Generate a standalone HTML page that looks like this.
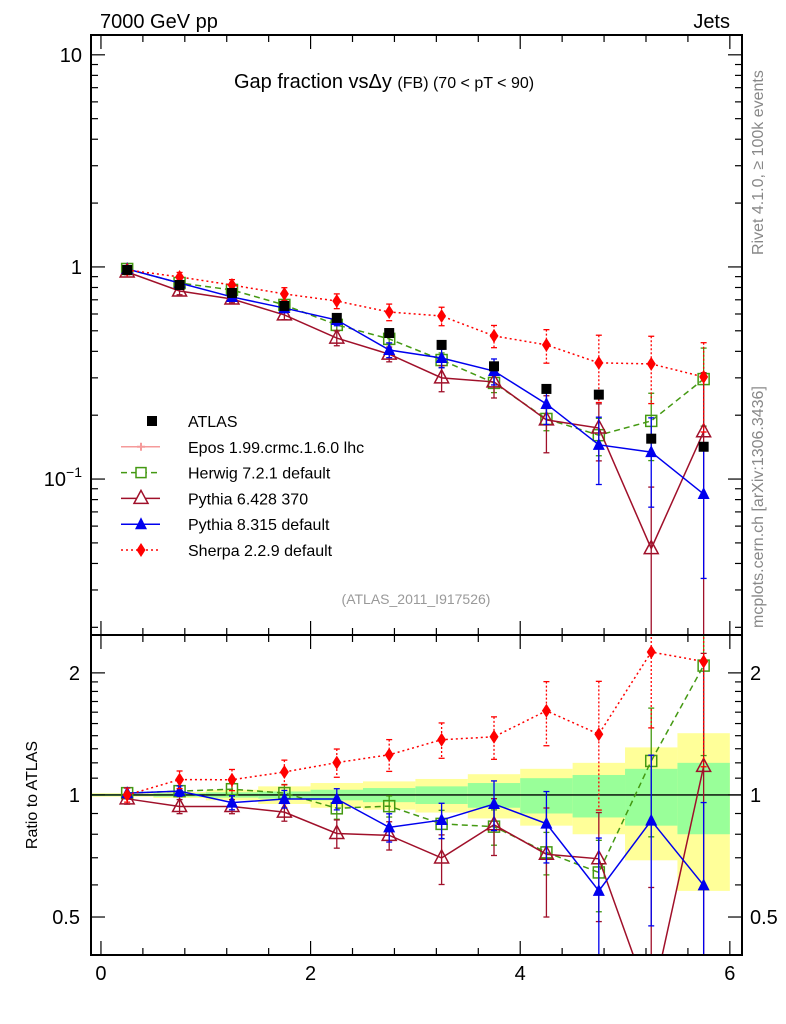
<!DOCTYPE html>
<html><head><meta charset="utf-8"><style>
html,body{margin:0;padding:0;background:#fff;width:786px;height:1024px;overflow:hidden;}
svg{display:block;font-family:"Liberation Sans",sans-serif;}
</style></head><body>
<svg id="chart" width="786" height="1024" viewBox="0 0 786 1024" xmlns="http://www.w3.org/2000/svg"></svg>
<script>
const xCenters=[0.25,0.75,1.25,1.75,2.25,2.75,3.25,3.75,4.25,4.75,5.25,5.75];
const atlasValues=[0.968,0.822,0.754,0.655,0.575,0.488,0.429,0.34,0.266,0.25,0.155,0.142];
const atlasStatErr=[0.006,0.01,0.015,0.02,0.03,0.04,0.05,0.07,0.1,0.12,0.16,0.2];
const atlasTotErr=[0.01,0.017,0.03,0.05,0.07,0.08,0.095,0.125,0.16,0.2,0.31,0.42];
const herwigValues=[0.978,0.84,0.779,0.662,0.533,0.458,0.364,0.284,0.192,0.161,0.188,0.296];
const herwigErr=[0.03,0.03,0.04,0.05,0.06,0.06,0.08,0.1,0.12,0.2,0.35,0.4];
const pythia6Values=[0.947,0.77,0.706,0.594,0.462,0.388,0.30,0.287,0.19,0.174,0.047,0.167];
const pythia6Err=[0.03,0.04,0.04,0.05,0.08,0.08,0.14,0.16,0.3,0.3,0.95,0.9];
const pythia8Values=[0.978,0.84,0.722,0.64,0.562,0.406,0.372,0.323,0.226,0.145,0.134,0.085];
const pythia8Err=[0.03,0.03,0.04,0.05,0.06,0.08,0.1,0.14,0.2,0.35,0.45,0.6];
const sherpaValues=[0.968,0.897,0.822,0.746,0.691,0.613,0.587,0.473,0.429,0.353,0.349,0.303];
const sherpaErr=[0.04,0.05,0.06,0.07,0.08,0.09,0.1,0.12,0.18,0.35,0.35,0.45];
const xTickLabels=["0","2","4","6"];
const yMainTicks=[10,1,0.1];
const yRatioTicks=[2,1,0.5];

const NS="http://www.w3.org/2000/svg";
const svg=document.getElementById('chart');
const L=91,R=742,T=35,MB=635,B=955;
const xMin=-0.095,xMax=6.116;
function X(v){return L+(v-xMin)/(xMax-xMin)*(R-L);}
const yMainMin=Math.log10(0.0184),yMainMax=Math.log10(12.4);
function Y(v){return MB-(Math.log10(v)-yMainMin)/(yMainMax-yMainMin)*(MB-T);}
const rMin=Math.log10(0.403),rMax=Math.log10(2.48);
function YR(v){return B-(Math.log10(v)-rMin)/(rMax-rMin)*(B-MB);}
function mk(tag,attrs,parent){const e=document.createElementNS(NS,tag);for(const k in attrs)e.setAttribute(k,attrs[k]);(parent||svg).appendChild(e);return e;}
function clampY(y,top,bot){return Math.max(top-10,Math.min(bot+10,y));}

const defs=mk('defs',{});
const c1=mk('clipPath',{id:'cm'},defs);mk('rect',{x:L,y:T,width:R-L,height:MB-T},c1);
const c2=mk('clipPath',{id:'cr'},defs);mk('rect',{x:L,y:MB,width:R-L,height:B-MB},c2);

const gBand=mk('g',{'clip-path':'url(#cr)'});


xCenters.forEach((c,i)=>{
  const x0=X(c-0.25),x1=X(c+0.25);
  const lo0=i===0?X(xMin):x0;
  const y1=YR(1+atlasTotErr[i]),y2=YR(1-atlasTotErr[i]);
  const r=mk('rect',{x:lo0,y:y1,width:x1-lo0,height:y2-y1,fill:'#ffff99'},gBand);
  
  
  const s1=YR(1+atlasStatErr[i]),s2=YR(1-atlasStatErr[i]);
  const g=mk('rect',{x:lo0,y:s1,width:x1-lo0,height:s2-s1,fill:'#99ff99'},gBand);
  
  
});
mk('line',{x1:L,x2:R,y1:YR(1),y2:YR(1),stroke:'#000','stroke-width':1.3});

function marker(g,type,x,y,color){
  let e;
  if(type==='sq'){e=mk('rect',{x:x-5,y:y-5,width:10,height:10,fill:'#000'},g);}
  else if(type==='osq'){e=mk('rect',{x:x-5.5,y:y-5.5,width:11,height:11,fill:'#fff','fill-opacity':0,stroke:color,'stroke-width':1.5},g);}
  else if(type==='otri'){e=mk('polygon',{points:`${x},${y-8} ${x-7},${y+5} ${x+7},${y+5}`,fill:'none',stroke:color,'stroke-width':1.5},g);}
  else if(type==='tri'){e=mk('polygon',{points:`${x},${y-7} ${x-6},${y+5} ${x+6},${y+5}`,fill:color},g);}
  else if(type==='dia'){e=mk('polygon',{points:`${x},${y-7} ${x-4.5},${y} ${x},${y+7} ${x+4.5},${y}`,fill:color},g);}
  else if(type==='cross'){e=mk('path',{d:`M${x-4} ${y}H${x+4}M${x} ${y-4}V${y+4}`,stroke:color,'stroke-width':2},g);}
  return e;
}
const series=[
 {name:'herwig',vals:herwigValues,err:herwigErr,color:'#449912',dash:'6,4',m:'osq'},
 {name:'pythia6',vals:pythia6Values,err:pythia6Err,color:'#a0102a',dash:'',m:'otri'},
 {name:'pythia8',vals:pythia8Values,err:pythia8Err,color:'#0000ee',dash:'',m:'tri'},
 {name:'sherpa',vals:sherpaValues,err:sherpaErr,color:'#ff0000',dash:'2,3',m:'dia'}
];
function drawSeries(s,yf,ratio,clip,top,bot){
  const g=mk('g',{'clip-path':clip});
  
  
  const pts=s.vals.map((v,i)=>{const val=ratio?v/atlasValues[i]:v;return [X(xCenters[i]),yf(val),val];});
  const p=mk('polyline',{points:pts.map(q=>q[0]+','+q[1]).join(' '),fill:'none',stroke:s.color,'stroke-width':1.5,'stroke-dasharray':s.dash},g);
  
  
  pts.forEach((q,i)=>{
    const e=s.err[i];
    const yt=clampY(yf(q[2]*(1+e)),top,bot);
    const yb=q[2]*(1-e)>0.001?clampY(yf(q[2]*(1-e)),top,bot):bot+10;
    mk('line',{x1:q[0],x2:q[0],y1:yt,y2:yb,stroke:s.color,'stroke-width':1.3,'stroke-dasharray':s.dash==='2,3'?'2,2':''},g);
    mk('line',{x1:q[0]-3,x2:q[0]+3,y1:yt,y2:yt,stroke:s.color,'stroke-width':1.3},g);
    mk('line',{x1:q[0]-3,x2:q[0]+3,y1:yb,y2:yb,stroke:s.color,'stroke-width':1.3},g);
    if(q[1]<bot+12&&q[1]>top-12){
      const m=marker(g,s.m,q[0],q[1],s.color);
      
      
    }
  });
}
series.forEach(s=>drawSeries(s,Y,false,'url(#cm)',T,MB));
atlasValues.forEach((v,i)=>{
  const m=marker(svg,'sq',X(xCenters[i]),Y(v),'#000');
  
  
});
series.forEach(s=>drawSeries(s,YR,true,'url(#cr)',MB,B));

mk('rect',{x:L,y:T,width:R-L,height:MB-T,fill:'none',stroke:'#000','stroke-width':2});
mk('rect',{x:L,y:MB,width:R-L,height:B-MB,fill:'none',stroke:'#000','stroke-width':2});

for(let k=0;k<=15;k++){
  const v=k*0.4; if(v>xMax)break;
  const major=Math.abs(v/2-Math.round(v/2))<1e-6;
  const len=major?14:7; const x=X(v);
  [[T,1],[MB,-1],[MB,1],[B,-1]].forEach(([y,d])=>mk('line',{x1:x,x2:x,y1:y,y2:y+d*len,stroke:'#000','stroke-width':1.2}));
}
xTickLabels.forEach(t=>{
  const e=mk('text',{x:X(+t),y:980,'font-size':20,'text-anchor':'middle'});e.textContent=t;
  
  
});
for(let d=-2;d<=1;d++){for(let m=1;m<=9;m++){
  const v=m*Math.pow(10,d); if(v<0.0184||v>12.4)continue;
  const len=m===1?14:7; const y=Y(v);
  mk('line',{x1:L,x2:L+len,y1:y,y2:y,stroke:'#000','stroke-width':1.2});
  mk('line',{x1:R,x2:R-len,y1:y,y2:y,stroke:'#000','stroke-width':1.2});
}}
yMainTicks.forEach(v=>{
  const e=mk('text',{x:82,y:Y(v)+7,'font-size':20,'text-anchor':'end'});
  
  
  if(v===0.1){e.innerHTML='10<tspan dy="-9" font-size="14">−1</tspan>';}else e.textContent=String(v);
});
[0.5,0.6,0.7,0.8,0.9,1,1.1,1.2,1.3,1.4,1.5,1.6,1.7,1.8,1.9,2].forEach(v=>{
  const major=(v===0.5||v===1||v===2);const len=major?14:7;const y=YR(v);
  mk('line',{x1:L,x2:L+len,y1:y,y2:y,stroke:'#000','stroke-width':1.2});
  mk('line',{x1:R,x2:R-len,y1:y,y2:y,stroke:'#000','stroke-width':1.2});
});
yRatioTicks.forEach(v=>{
  const a=mk('text',{x:80,y:YR(v)+7,'font-size':20,'text-anchor':'end'});a.textContent=String(v);
  
  
  const b=mk('text',{x:750,y:YR(v)+7,'font-size':20}); b.textContent=String(v);
  
  
});
</script>
<script>
(function(){
const NS="http://www.w3.org/2000/svg";const svg=document.getElementById('chart');
function t(x,y,s,txt,name,extra){const e=document.createElementNS(NS,'text');e.setAttribute('x',x);e.setAttribute('y',y);e.setAttribute('font-size',s);for(const k in (extra||{}))e.setAttribute(k,extra[k]);e.innerHTML=txt;svg.appendChild(e);return e;}
t(100,28,20,'7000 GeV pp','energy-label');
t(730,28,20,'Jets','process-label',{'text-anchor':'end'});
t(234,88,20,'Gap fraction vs&#916;y <tspan font-size="16">(FB) (70 &lt; pT &lt;  90)</tspan>','plot-title');
t(416,604,14,'(ATLAS_2011_I917526)','analysis-id',{'text-anchor':'middle',fill:'#999'});
t(0,0,16,'Rivet 4.1.0, &#8805; 100k events','rivet-label',{fill:'#888',transform:'translate(763,255) rotate(-90)'});
t(0,0,16,'mcplots.cern.ch [arXiv:1306.3436]','mcplots-label',{fill:'#888',transform:'translate(763,628) rotate(-90)'});
t(0,0,16,'Ratio to ATLAS','ratio-y-axis-title',{'text-anchor':'middle',transform:'translate(37,795) rotate(-90)'});
const leg=[['ATLAS','#000','','sq'],['Epos 1.99.crmc.1.6.0 lhc','#f59a9a','','cross'],['Herwig 7.2.1 default','#449912','6,4','osq'],['Pythia 6.428 370','#a0102a','','otri'],['Pythia 8.315 default','#0000ee','','tri'],['Sherpa 2.2.9 default','#ff0000','2,3','dia']];
leg.forEach((l,i)=>{
  const y=421+i*25.8;
  const g=document.createElementNS(NS,'g');svg.appendChild(g);
  if(l[3]!=='sq'){const ln=document.createElementNS(NS,'line');ln.setAttribute('x1',121);ln.setAttribute('x2',160);ln.setAttribute('y1',y);ln.setAttribute('y2',y);ln.setAttribute('stroke',l[1]);ln.setAttribute('stroke-width',1.5);if(l[2])ln.setAttribute('stroke-dasharray',l[2]);g.appendChild(ln);}
  const cx=141;let e=document.createElementNS(NS,l[3]==='sq'||l[3]==='osq'?'rect':(l[3]==='cross'?'path':'polygon'));
  if(l[3]==='sq'){e.setAttribute('x',cx+6);e.setAttribute('y',y-5);e.setAttribute('width',10);e.setAttribute('height',10);e.setAttribute('fill','#000');}
  else if(l[3]==='osq'){e.setAttribute('x',cx-5);e.setAttribute('y',y-5);e.setAttribute('width',10);e.setAttribute('height',10);e.setAttribute('fill','#fff');e.setAttribute('stroke',l[1]);e.setAttribute('stroke-width',1.5);}
  else if(l[3]==='cross'){e.setAttribute('d',`M${cx-4} ${y}H${cx+4}M${cx} ${y-4}V${y+4}`);e.setAttribute('stroke',l[1]);e.setAttribute('stroke-width',2);}
  else if(l[3]==='otri'){e.setAttribute('points',`${cx},${y-8} ${cx-7},${y+5} ${cx+7},${y+5}`);e.setAttribute('fill','#fff');e.setAttribute('stroke',l[1]);e.setAttribute('stroke-width',1.5);}
  else if(l[3]==='tri'){e.setAttribute('points',`${cx},${y-7} ${cx-6},${y+5} ${cx+6},${y+5}`);e.setAttribute('fill',l[1]);}
  else {e.setAttribute('points',`${cx},${y-7} ${cx-4.5},${y} ${cx},${y+7} ${cx+4.5},${y}`);e.setAttribute('fill',l[1]);}
  g.appendChild(e);
  const tx=document.createElementNS(NS,'text');tx.setAttribute('x',188);tx.setAttribute('y',y+6);tx.setAttribute('font-size',16);tx.textContent=l[0];g.appendChild(tx);
});
})();
</script>
</body></html>
